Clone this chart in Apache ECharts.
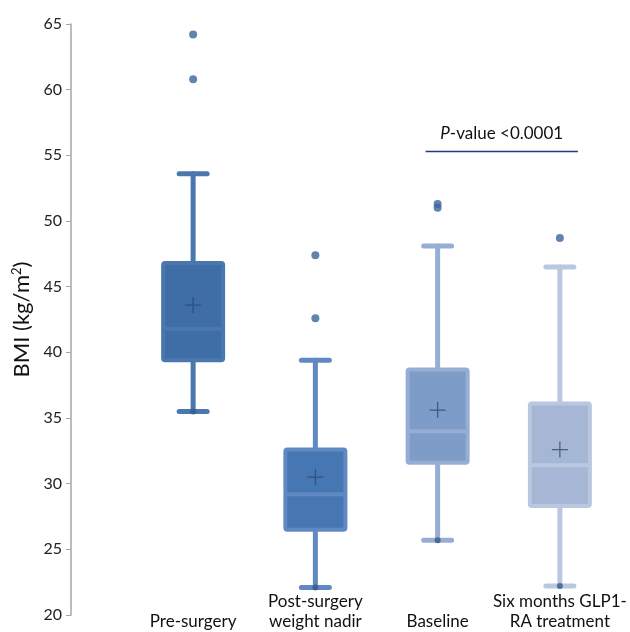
<!DOCTYPE html>
<html><head><meta charset="utf-8">
<script src="https://cdn.jsdelivr.net/npm/echarts@6/dist/echarts.min.js"></script>
<style>html,body{margin:0;padding:0;background:#fff}#c{width:630px;height:632px}</style>
</head><body><div id="c"></div>
<script>
const categories = ['Pre-surgery', 'Post-surgery\nweight nadir', 'Baseline', 'Six months GLP1-\nRA treatment'];
const minVals = [35.5, 22.1, 25.7, 22.2];
const q1Vals = [39.4, 26.5, 31.6, 28.3];
const medianVals = [41.8, 29.2, 34.0, 31.4];
const q3Vals = [46.8, 32.6, 38.7, 36.1];
const maxVals = [53.6, 39.4, 48.1, 46.5];
const meanVals = [43.6, 30.5, 35.6, 32.6];
const outliers = [[0, 64.2], [0, 60.8], [1, 47.4], [1, 42.6], [2, 51.3], [2, 51.0], [3, 48.7]];
const yTicks = [20, 25, 30, 35, 40, 45, 50, 55, 60, 65];
const pValueText = 'P-value <0.0001';
const pValueLevel = 55.3;
const pValueCats = [2, 3];

const fills = ['#3f6da6', '#4677b3', '#7e9cc8', '#a6b7d6'];
const borders = ['#4a77ae', '#6189c1', '#96aed4', '#b9c7e0'];
const font = 'Lato, "Open Sans", sans-serif';

const boxData = categories.map((c, i) => [i, minVals[i], q1Vals[i], medianVals[i], q3Vals[i], maxVals[i]]);

const chart = echarts.init(document.getElementById('c'), null, {renderer: 'canvas'});
chart.setOption({
  animation: false,
  grid: {left: 132, right: 9, top: 24, bottom: 15},
  xAxis: {
    type: 'category', data: categories.map(c => c.indexOf('\n') < 0 ? '\n' + c : c),
    axisLine: {show: false}, axisTick: {show: false},
    axisLabel: {margin: -23, fontFamily: font, fontSize: 17, color: '#111', lineHeight: 20, verticalAlign: 'top', interval: 0}
  },
  yAxis: {
    type: 'value', min: yTicks[0], max: yTicks[yTicks.length - 1], interval: 5, offset: 61,
    axisLine: {show: true, lineStyle: {color: '#a6a6a6', width: 1.5}},
    axisTick: {show: true, length: 5, lineStyle: {color: '#a6a6a6'}},
    splitLine: {show: false},
    axisLabel: {fontFamily: font, fontSize: 16, color: '#222', margin: 9},
    name: 'BMI (kg/m{sup|2})', nameLocation: 'middle', nameGap: 37,
    nameTextStyle: {fontFamily: font, fontSize: 22, color: '#111',
      rich: {sup: {fontFamily: font, fontSize: 13, verticalAlign: 'top', padding: [0, 0, 10, 0]}}}
  },
  series: [
    {
      type: 'custom', data: boxData, z: 2,
      encode: {x: 0, y: [1, 2, 3, 4, 5]},
      renderItem: function (params, api) {
        const i = api.value(0);
        const cx = api.coord([i, 0])[0];
        const yMin = api.coord([i, api.value(1)])[1];
        const yQ1 = api.coord([i, api.value(2)])[1];
        const yMed = api.coord([i, api.value(3)])[1];
        const yQ3 = api.coord([i, api.value(4)])[1];
        const yMax = api.coord([i, api.value(5)])[1];
        const bw = 60, cap = 28;
        const b = borders[i], f = fills[i];
        const ls = {stroke: b, lineWidth: 5, lineCap: 'round'};
        return {type: 'group', children: [
          {type: 'line', shape: {x1: cx, y1: yQ3, x2: cx, y2: yMax}, style: ls},
          {type: 'line', shape: {x1: cx, y1: yQ1, x2: cx, y2: yMin}, style: ls},
          {type: 'line', shape: {x1: cx - cap / 2, y1: yMax, x2: cx + cap / 2, y2: yMax}, style: ls},
          {type: 'line', shape: {x1: cx - cap / 2, y1: yMin, x2: cx + cap / 2, y2: yMin}, style: ls},
          {type: 'rect', shape: {x: cx - bw / 2, y: yQ3, width: bw, height: yQ1 - yQ3, r: 2}, style: {fill: f, stroke: b, lineWidth: 4}},
          {type: 'line', shape: {x1: cx - bw / 2, y1: yMed, x2: cx + bw / 2, y2: yMed}, style: {stroke: b, lineWidth: 4}}
        ]};
      }
    },
    {
      type: 'scatter', data: outliers, symbolSize: 8, z: 3,
      itemStyle: {color: '#3a649c'}
    },
    {
      type: 'scatter', data: minVals.map((v, i) => [i, v]), symbolSize: 6, z: 3,
      itemStyle: {color: '#37598a'}
    },
    {
      type: 'scatter', data: meanVals.map((v, i) => [i, v]), z: 4,
      symbol: 'path://M4.6,0H5.4V4.6H10V5.4H5.4V10H4.6V5.4H0V4.6H4.6Z', symbolSize: 16,
      itemStyle: {color: '#2c4a74'}
    }
  ]
});

function drawAnnotation() {
  const p1 = chart.convertToPixel({gridIndex: 0}, [pValueCats[0], pValueLevel]);
  const p2 = chart.convertToPixel({gridIndex: 0}, [pValueCats[1], pValueLevel]);
  const x1 = p1[0] - 12, x2 = p2[0] + 18, y = p1[1];
  const parts = pValueText.split('-');
  chart.setOption({graphic: [
    {type: 'line', shape: {x1: x1, y1: y, x2: x2, y2: y}, style: {stroke: '#1f3a86', lineWidth: 1.5}},
    {type: 'text', x: (x1 + x2) / 2, y: y - 18, style: {
      text: '{i|' + parts[0] + '}-' + parts.slice(1).join('-'),
      rich: {i: {fontStyle: 'italic', fontFamily: font, fontSize: 17, fill: '#111'}},
      font: '17px ' + font, fill: '#111', align: 'center', verticalAlign: 'middle'}}
  ]});
}
drawAnnotation();
</script></body></html>
